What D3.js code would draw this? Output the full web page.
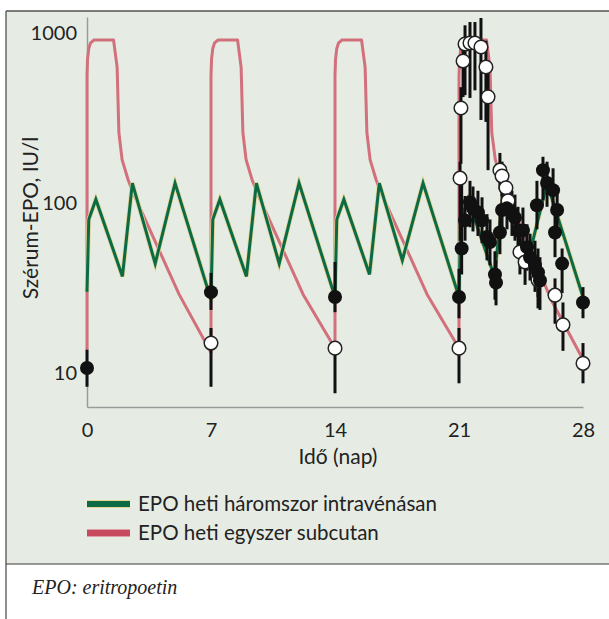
<!DOCTYPE html>
<html>
<head>
<meta charset="utf-8">
<title>EPO</title>
<script src="https://cdn.jsdelivr.net/npm/d3@7"></script>
<style>
body { margin: 0; background: #fff; }
.axis path { stroke: #9a9a9a; stroke-width: 1.5; }
.axis text { font-family: Lato, "Open Sans", sans-serif; font-size: 20px; fill: #222; }
.lbl { font-family: Lato, "Open Sans", sans-serif; fill: #222; }
</style>
</head>
<body>
<script>
// tick labels
var xTicks = [0, 7, 14, 21, 28];
var yTicks = [10, 100, 1000];

// model curve, EPO once a week subcutaneously (red)
var redDays = [0, 0, 0.03, 0.1, 0.2, 0.4, 1.5, 1.7, 1.8, 1.98, 2.33, 2.62, 5.2, 7,
	7, 7.03, 7.1, 7.2, 7.4, 8.5, 8.7, 8.8, 8.98, 9.33, 9.62, 12.2, 14,
	14, 14.03, 14.1, 14.2, 14.4, 15.5, 15.7, 15.8, 15.98, 16.33, 16.62, 19.2, 21,
	21, 21.03, 21.1, 21.2, 21.4, 22.55, 22.75, 22.85, 23.05, 23.4, 23.7, 26.2, 28];
var redVals = [13.6, 560, 700, 810, 875, 910, 910, 630, 260, 180, 136, 114, 29, 13.2,
	560, 700, 810, 875, 910, 910, 630, 260, 180, 136, 114, 29, 14,
	560, 700, 810, 875, 910, 910, 630, 260, 180, 136, 114, 29, 14,
	560, 700, 810, 875, 910, 910, 630, 260, 180, 136, 114, 27, 12];

// model curve, EPO three times a week intravenously (green)
var greenDays = [0, 0.1, 0.5, 2.0, 2.56, 3.85, 4.97, 7,
	7.1, 7.5, 9.0, 9.56, 10.85, 11.97, 14,
	14.1, 14.5, 15.95, 16.5, 17.8, 18.97, 21,
	21.1, 21.5, 23.0, 23.56, 24.85, 25.97, 28];
var greenVals = [30, 80, 105, 37, 131, 44, 131, 27,
	80, 105, 37, 131, 44, 131, 28,
	80, 105, 38, 131, 46, 131, 28,
	80, 105, 37, 131, 44, 131, 28];

// measured, intravenous group (filled circles)
var ivDays = [0, 7, 14, 21, 21.15, 21.34, 21.62, 21.79, 22.07, 22.3, 22.58, 22.75, 23.03, 23.09,
	23.31, 23.43, 23.71, 23.99, 24.16, 24.33, 24.61, 24.84, 25.01, 25.29, 25.46, 25.57,
	25.4, 25.74, 25.97, 26.31, 26.54, 26.42, 26.82, 28];
var ivVals = [10.7, 29.9, 28, 28, 54, 79, 101, 93, 88, 79, 63, 59, 38, 34,
	67, 91, 93, 87, 82, 69, 69, 55, 48, 43, 39, 35,
	97, 156, 131, 119, 91, 67, 44, 26];
var ivLo = [8.3, 23.5, 22.8, 21, 38, 60, 72, 68, 64, 58, 46, 43, 27, 25,
	50, 68, 70, 64, 60, 50, 50, 40, 35, 30, 28, 23.5,
	70, 104, 95, 88, 66, 48, 29.5, 21];
var ivHi = [13.7, 38.8, 45, 41, 140, 110, 135, 125, 118, 108, 86, 80, 52, 46,
	92, 125, 125, 118, 112, 95, 94, 75, 66, 60, 54, 48,
	135, 187, 175, 160, 125, 92, 54, 32];

// measured, subcutaneous group (open circles)
var scDays = [7, 14, 21, 21.06, 21.11, 21.23, 21.34, 21.62, 21.9, 22.24, 22.52, 22.64,
	23.31, 23.43, 23.65, 23.77, 24.44, 24.73, 25.46, 26.42, 26.87, 28];
var scVals = [15, 14, 14, 140, 362, 684, 861, 873, 873, 827, 631, 421,
	156, 144, 123, 103, 51.5, 45, 35.2, 28.7, 19.2, 11.4];
var scLo = [8.3, 7.6, 8.7, 60, 170, 420, 431, 415, 460, 308, 300, 156,
	120, 110, 95, 80, 38, 33, 24, 19.5, 13.5, 8.7];
var scHi = [18.4, 14, 18.4, 175, 480, 820, 1110, 1160, 1160, 1225, 900, 620,
	197, 175, 150, 125, 65, 58, 45, 36, 26, 15];

var legendLabels = ["EPO heti háromszor intravénásan", "EPO heti egyszer subcutan"];
var legendColors = ["#0c6a45", "#c84a5e"];

var width = 609, height = 619;
var svg = d3.select("body").append("svg")
	.attr("width", width)
	.attr("height", height);

// panel background and frame
svg.append("rect").attr("x", 6).attr("y", 11).attr("width", width - 6).attr("height", 553)
	.attr("fill", "#e6ece3");
svg.append("line").attr("x1", 6).attr("x2", width).attr("y1", 11).attr("y2", 11)
	.attr("stroke", "#555").attr("stroke-width", 1.5);
svg.append("line").attr("x1", 6).attr("x2", width).attr("y1", 564).attr("y2", 564)
	.attr("stroke", "#777").attr("stroke-width", 1.5);
svg.append("line").attr("x1", 6).attr("x2", 6).attr("y1", 11).attr("y2", height)
	.attr("stroke", "#444").attr("stroke-width", 1.2);

var x = d3.scaleLinear().domain([0, 28]).range([87, 583]);
var y = d3.scaleLog().domain([6.31, 1242]).range([407, 17]);

svg.append("g")
	.attr("class", "axis")
	.attr("transform", "translate(0,407)")
	.call(d3.axisBottom(x).tickValues(xTicks).tickSize(0).tickPadding(16).tickFormat(d3.format("d")));
svg.append("g")
	.attr("class", "axis")
	.attr("transform", "translate(87,0)")
	.call(d3.axisLeft(y).tickValues(yTicks).tickSize(0).tickPadding(10).tickFormat(d3.format("d")));

svg.append("text").attr("class", "lbl")
	.attr("transform", "translate(29,218) rotate(-90)")
	.attr("text-anchor", "middle").attr("dominant-baseline", "central")
	.style("font-size", "21px")
	.text("Szérum-EPO, IU/l");
svg.append("text").attr("class", "lbl")
	.attr("x", 338).attr("y", 464)
	.attr("text-anchor", "middle")
	.style("font-size", "21px")
	.text("Idő (nap)");

var line = d3.line()
	.x(function(d){ return x(d[0]); })
	.y(function(d){ return y(d[1]); });

var redPts = redDays.map(function(d, i){ return [d, redVals[i]]; });
var greenPts = greenDays.map(function(d, i){ return [d, greenVals[i]]; });

svg.append("path").attr("d", line(redPts))
	.attr("fill", "none").attr("stroke", "#d2707c").attr("stroke-width", 3)
	.attr("stroke-linejoin", "round");
svg.append("path").attr("d", line(greenPts))
	.attr("fill", "none").attr("stroke", "#e2d596").attr("stroke-width", 4.5)
	.attr("stroke-linejoin", "miter");
svg.append("path").attr("d", line(greenPts))
	.attr("fill", "none").attr("stroke", "#0c6a45").attr("stroke-width", 3)
	.attr("stroke-linejoin", "miter");

// error bars
var bars = [];
for (let i = 0; i < scDays.length; i++) bars.push([scDays[i], scLo[i], scHi[i]]);
for (let i = 0; i < ivDays.length; i++) bars.push([ivDays[i], ivLo[i], ivHi[i]]);
svg.selectAll("line.err")
	.data(bars)
	.enter()
	.append("line")
	.attr("class", "err")
	.attr("x1", function(d){ return x(d[0]); })
	.attr("x2", function(d){ return x(d[0]); })
	.attr("y1", function(d){ return y(d[1]); })
	.attr("y2", function(d){ return y(d[2]); })
	.attr("stroke", "#111")
	.attr("stroke-width", 3);

svg.selectAll("circle.sc")
	.data(scDays)
	.enter()
	.append("circle")
	.attr("class", "sc")
	.attr("cx", function(d){ return x(d); })
	.attr("cy", function(d, i){ return y(scVals[i]); })
	.attr("r", 6.8)
	.attr("fill", "#fff")
	.attr("stroke", "#222")
	.attr("stroke-width", 1.5);

svg.selectAll("circle.iv")
	.data(ivDays)
	.enter()
	.append("circle")
	.attr("class", "iv")
	.attr("cx", function(d){ return x(d); })
	.attr("cy", function(d, i){ return y(ivVals[i]); })
	.attr("r", 7)
	.attr("fill", "#111");

// legend
var lg = svg.selectAll("g.leg")
	.data(legendLabels)
	.enter()
	.append("g")
	.attr("class", "leg")
	.attr("transform", function(d, i){ return "translate(87," + (504 + i * 29) + ")"; });
lg.append("line")
	.attr("x1", 0).attr("x2", 43)
	.attr("stroke", function(d, i){ return i == 0 ? "#e2d596" : "#e0a0a8"; })
	.attr("stroke-width", 8);
lg.append("line")
	.attr("x1", 0).attr("x2", 43)
	.attr("stroke", function(d, i){ return legendColors[i]; })
	.attr("stroke-width", 6);
lg.append("text").attr("class", "lbl")
	.attr("x", 51).attr("dy", "0.35em")
	.style("font-size", "20.5px")
	.text(function(d){ return d; });

svg.append("text")
	.attr("x", 32).attr("y", 594)
	.style("font-family", "'Liberation Serif', 'DejaVu Serif', serif")
	.style("font-style", "italic")
	.style("font-size", "20px")
	.attr("fill", "#222")
	.text("EPO: eritropoetin");
</script>
</body>
</html>
